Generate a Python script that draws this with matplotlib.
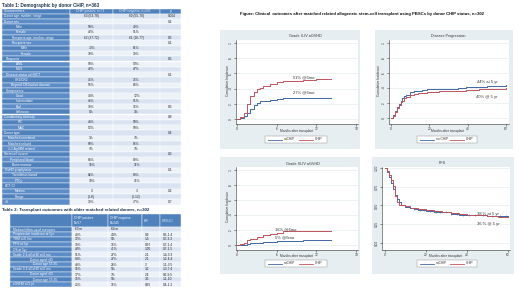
import numpy as np
import matplotlib
matplotlib.use('Agg')
import matplotlib.pyplot as plt
from matplotlib.patches import Rectangle

plt.rcParams['font.family'] = ['Liberation Sans', 'DejaVu Sans']

# ---------------- DATA ----------------
fig_title = ("Figure: Clinical  outcomes after matched related allogeneic stem-cell "
             "transplant using PBSCs by donor CHIP status, n=302")

t1_title = "Table 1: Demographic by donor CHIP, n=363"
t1_header = ["Characteristics", "CHIP positive, n=71", "CHIP negative, n=292", "p"]
t1_labels = ["Donor age, median, range", "Donor sex", "Male", "Female",
             "Recipient age, median, range", "Recipient sex", "Male", "Female",
             "Diagnosis", "AML", "MDS", "Disease status at HSCT", "CR1/CR2",
             "Beyond CR2/active disease", "Cytogenetics", "Good", "Intermediate",
             "Bad", "Unknown", "Conditioning intensity", "RIC", "MAC", "Donor type",
             "Matched unrelated", "Matched related", "1-1 Ag MM related",
             "Stem cell source", "Peripheral blood", "Bone marrow", "GvHD prophylaxis",
             "Tacrolimus based", "PTCy", "HCT-CI", "Median", "Range", ">3"]
t1_pos = ["63 (53-78)", "", "58%", "42%", "62 (37-72)", "", "70%", "30%", "", "58%",
          "42%", "", "45%", "55%", "", "14%", "46%", "39%", "0%", "", "48%", "52%", "",
          "3%", "90%", "7%", "", "84%", "16%", "", "82%", "18%", "", "3", "(0-8)", "39%"]
t1_neg = ["60 (55-70)", "", "49%", "51%", "61 (26-77)", "", "61%", "39%", "", "53%",
          "47%", "", "36%", "64%", "", "12%", "51%", "36%", "1%", "", "50%", "50%", "",
          "7%", "86%", "7%", "", "89%", "11%", "", "89%", "11%", "", "3", "(0-12)", "37%"]
t1_p = ["0.004", "0.2", "", "", "0.5", "0.1", "", "", "0.5", "", "", "0.1", "", "",
        "", "", "", "0.5", "", "0.8", "", "", "0.4", "", "", "", "0.3", "", "", "0.1",
        "", "", "", "0.2", "", "0.7"]

t2_title = "Table 2: Transplant outcomes with older matched related donors, n=302"
t2_header = ["", "CHIP positive\nN=57", "CHIP negative\nN=245", "HR", "95% CI"]
t2_labels = ["Median follow-up of survivors", "Progression incidence at 5yr",
             "TRM at 6 mo", "PFS at 5yr", "OS at 5yr", "Grade 2-4 aGvHD at 6 mo",
             "Donor aged <65", "Donor age 55-65", "Grade 3-4 aGvHD at 6 mo",
             "Donor aged <65", "Donor age 55-65", "cGVHD at 5 yr"]
t2_pos = ["63 m", "40%", "12%", "38%", "43%", "51%", "54%", "48%", "16%", "17%", "15%", "23%"]
t2_neg = ["64 m", "44%", "9%", "36%", "41%", "27%", "27%", "28%", "5%", "7%", "5%", "36%"]
t2_hr = ["", "0.9", "1.5", "0.97", "1.05", "2.1", "2.1", "2", "3.2", "2.4", "3.5", "0.65"]
t2_ci = ["", "0.5-1.4", "0.7-3.3", "0.7-1.4", "0.7-1.5", "1.4-3.3", "1.2-4.4",
         "1.1-3.5", "1.3-7.4", "0.6-9.5", "1.1-10", "0.4-1.2"]

series_names = ["noCHIP", "CHIP"]

# Grade II-IV aGVHD (months)
g24_t = [0, 0.5, 1, 1.5, 2, 2.5, 3, 3.5, 4, 5, 6, 7, 8, 10, 12, 14.2]
g24_nochip = [0, 0.01, 0.04, 0.08, 0.13, 0.18, 0.21, 0.23, 0.24, 0.25, 0.26, 0.27, 0.27, 0.27, 0.28, 0.28]
g24_chip = [0, 0.02, 0.08, 0.2, 0.3, 0.36, 0.39, 0.41, 0.43, 0.46, 0.49, 0.5, 0.5, 0.51, 0.52, 0.52]
g24_notes = ["27% @6mo", "51% @6mo"]

# Disease progression (months)
prog_t = [0, 1, 2, 3, 4, 5, 6, 7, 8, 10, 12, 14, 16, 19, 22, 25, 30, 35, 39, 42, 46, 50, 55, 60]
prog_nochip = [0, 0.04, 0.09, 0.15, 0.19, 0.23, 0.26, 0.29, 0.31, 0.34, 0.355, 0.365, 0.37,
               0.38, 0.385, 0.39, 0.39, 0.395, 0.41, 0.41, 0.415, 0.42, 0.43, 0.435]
prog_chip = [0, 0.03, 0.08, 0.13, 0.17, 0.21, 0.23, 0.26, 0.28, 0.30, 0.32, 0.33, 0.335,
             0.345, 0.35, 0.355, 0.36, 0.36, 0.37, 0.37, 0.38, 0.385, 0.39, 0.395]
prog_notes = ["44% at 5 yr", "40% @ 5 yr"]

# Grade III-IV aGVHD (months)
g34_t = [0, 0.5, 1, 1.5, 2, 3, 4, 5, 6, 7, 8, 10, 12, 14.2]
g34_nochip = [0, 0.0, 0.005, 0.01, 0.02, 0.03, 0.04, 0.045, 0.05, 0.055, 0.055, 0.06, 0.06, 0.06]
g34_chip = [0, 0.01, 0.03, 0.06, 0.08, 0.11, 0.13, 0.15, 0.16, 0.18, 0.18, 0.18, 0.18, 0.18]
g34_notes = ["5% @6mo", "16% @6mo"]

# PFS (months)
pfs_t = [0, 1, 2, 3, 4, 5, 6, 7, 8, 10, 12, 14, 16, 20, 24, 28, 32, 36, 40, 45, 50, 55, 60]
pfs_nochip = [1, 0.95, 0.88, 0.8, 0.72, 0.64, 0.58, 0.54, 0.51, 0.48, 0.46, 0.45, 0.44, 0.43,
              0.42, 0.41, 0.39, 0.38, 0.37, 0.37, 0.36, 0.355, 0.355]
pfs_chip = [1, 0.96, 0.9, 0.84, 0.76, 0.62, 0.55, 0.51, 0.5, 0.49, 0.47, 0.46, 0.45, 0.44,
            0.43, 0.42, 0.40, 0.39, 0.38, 0.37, 0.36, 0.35, 0.35]
pfs_cens = [14, 17, 19, 22, 25, 27, 30, 32, 35, 38, 41, 44, 48, 52, 56, 59]
pfs_notes = ["38 % at 5 yr", "36 % @ 5 yr"]

# ---------------- LAYOUT / STYLE ----------------
W, H = 520, 292
BLUE, RED = '#3f67a3', '#c0525a'
HDR, LAB, LAB2 = '#4f81bd', '#4f81bd', '#5d8dc8'
ROW_A, ROW_B = '#d9e3f1', '#edf2f9'
PANEL = '#e6eef2'
GRID = '#dde6ec'

fig = plt.figure(figsize=(5.2, 2.92), dpi=100)
fig.patch.set_facecolor('white')
bg = fig.add_axes([0, 0, 1, 1])
bg.set_xlim(0, W)
bg.set_ylim(H, 0)
bg.axis('off')


def cell(x0, y0, x1, y1, color):
    bg.add_patch(Rectangle((x0, y0), x1 - x0, y1 - y0, facecolor=color,
                           edgecolor='white', linewidth=0.3))


# ---- Table 1 ----
bg.text(2, 5, t1_title, fontsize=3.3, fontweight='bold', va='center', ha='left', color='#1f3550')
c1 = [2, 70, 113, 160, 181]
rh = 5.3
ty = 8.5
for j in range(4):
    cell(c1[j], ty, c1[j + 1], ty + rh, HDR)
bg.text(c1[0] + 2, ty + rh / 2, t1_header[0], fontsize=2.3, color='white', va='center')
for j in (1, 2):
    bg.text(c1[j] + 6, ty + rh / 2, t1_header[j], fontsize=2.3, color='#e8eef8', va='center')
bg.text(c1[3] + 10, ty + rh / 2, t1_header[3], fontsize=2.3, color='white', va='center')
t1_indent = [2, 2, 14, 14, 10, 10, 19, 19, 4, 14, 14, 4, 13, 9, 4, 14, 14, 14, 14, 2, 16,
             16, 2, 6, 6, 6, 2, 8, 10, 3, 10, 13, 3, 13, 13, 3]
for i, lab in enumerate(t1_labels):
    y0 = ty + rh * (i + 1)
    cell(c1[0], y0, c1[1], y0 + rh, LAB if i % 2 == 0 else LAB2)
    shade = ROW_A if i % 2 == 0 else ROW_B
    for j in (1, 2, 3):
        cell(c1[j], y0, c1[j + 1], y0 + rh, shade)
    yc = y0 + rh / 2
    bg.text(c1[0] + t1_indent[i], yc, lab, fontsize=2.3, color='white', va='center')
    bg.text((c1[1] + c1[2]) / 2, yc, t1_pos[i], fontsize=2.3, color='#222', va='center', ha='center')
    bg.text((c1[2] + c1[3]) / 2, yc, t1_neg[i], fontsize=2.3, color='#222', va='center', ha='center')
    bg.text(c1[3] + 8, yc, t1_p[i], fontsize=2.3, color='#222', va='center', ha='left')

# ---- Table 2 ----
bg.text(2, 210, t2_title, fontsize=3.2, fontweight='bold', va='center', ha='left', color='#1f3550')
c2 = [10, 72, 108, 142, 160, 181]
hy0, hy1 = 214, 227
for j in range(5):
    cell(c2[j], hy0, c2[j + 1], hy1, HDR)
for j in range(1, 5):
    bg.text(c2[j] + 2, (hy0 + hy1) / 2, t2_header[j], fontsize=2.3, color='white',
            va='center', ha='left', linespacing=1.3)
t2_indent = [3, 3, 3, 3, 3, 3, 20, 23, 3, 20, 23, 3]
rh2 = 5.0
for i, lab in enumerate(t2_labels):
    y0 = hy1 + rh2 * i
    cell(c2[0], y0, c2[1], y0 + rh2, LAB if i % 2 == 0 else LAB2)
    shade = ROW_A if i % 2 == 0 else ROW_B
    for j in range(1, 5):
        cell(c2[j], y0, c2[j + 1], y0 + rh2, shade)
    yc = y0 + rh2 / 2
    bg.text(c2[0] + t2_indent[i], yc, lab, fontsize=2.3, color='white', va='center')
    for j, col in zip(range(1, 5), (t2_pos, t2_neg, t2_hr, t2_ci)):
        bg.text(c2[j] + 3, yc, col[i], fontsize=2.3, color='#222', va='center', ha='left')

# ---- Figure title ----
bg.text(362, 14, fig_title, fontsize=3.1, fontweight='bold', ha='center', va='center', color='#111')


def px_axes(x0, y0, x1, y1):
    return fig.add_axes([x0 / W, 1 - y1 / H, (x1 - x0) / W, (y1 - y0) / H])


def step_value(ts, ys, x):
    k = np.searchsorted(ts, x, side='right') - 1
    return ys[k]


def panel(box, title, tpos, rect, xlim, ylim, xticks, yticks, ytl, ylab, ylab_x,
          xlab_pos, t, ys, notes, note_pos, leg, leg_labels):
    bx0, by0, bx1, by1 = box
    bg.add_patch(Rectangle((bx0, by0), bx1 - bx0, by1 - by0, facecolor=PANEL, edgecolor='none'))
    bg.text(tpos[0], tpos[1], title, fontsize=2.7, color='#333', ha='center', va='center')
    ax = px_axes(*rect)
    ax.set_facecolor('white')
    ax.set_xlim(*xlim)
    ax.set_ylim(*ylim)
    for s in ('top', 'right'):
        ax.spines[s].set_visible(False)
    for s in ('left', 'bottom'):
        ax.spines[s].set_linewidth(0.4)
        ax.spines[s].set_color('#333')
    ax.set_xticks(xticks)
    ax.set_yticks(yticks)
    ax.set_yticklabels(ytl, rotation=90, va='center')
    ax.tick_params(length=1.5, width=0.4, pad=1, labelsize=2.3, colors='#333')
    ax.yaxis.grid(True, color=GRID, linewidth=0.4)
    ax.set_axisbelow(True)
    for y, c in zip(ys, (BLUE, RED)):
        ax.plot(t, y, drawstyle='steps-post', color=c, linewidth=0.7)
    for txt, (nx, ny) in zip(notes, note_pos):
        ax.text(nx, ny, txt, fontsize=3.0, color='#333', ha='left', va='center')
    if ylab:
        bg.text(ylab_x, (rect[1] + rect[3]) / 2 - 2, ylab, fontsize=2.3, rotation=90,
                ha='center', va='center', color='#333')
    bg.text(xlab_pos[0], xlab_pos[1], "Months after transplant", fontsize=2.3,
            ha='center', va='center', color='#333')
    lx0, ly0, lx1, ly1 = leg
    bg.add_patch(Rectangle((lx0, ly0), lx1 - lx0, ly1 - ly0, facecolor='white',
                           edgecolor='#8a8a8a', linewidth=0.3))
    ym = (ly0 + ly1) / 2
    w = lx1 - lx0
    for k, (c, lab) in enumerate(zip((BLUE, RED), leg_labels)):
        sx = lx0 + 3 + k * w / 2
        bg.plot([sx, sx + 14], [ym, ym], color=c, linewidth=0.6)
        bg.text(sx + 16, ym, lab, fontsize=2.3, va='center', ha='left', color='#333')
    return ax


yt = [0, 0.2, 0.4, 0.6, 0.8, 1]
ytl = ["0", ".2", ".4", ".6", ".8", "1"]

panel((220, 30, 360, 149), "Grade II-IV aGVHD", (305, 36), (236, 40, 358, 124),
      (-0.15, 18.3), (-0.066, 1.039), [0, 6, 12, 18], yt, ytl, "Cumulative Incidence", 228,
      (297, 131), g24_t, (g24_nochip, g24_chip), g24_notes, [(8.5, 0.355), (8.5, 0.55)],
      (265, 136, 327, 143), series_names)

panel((375, 30, 513, 149), "Disease Progression", (448, 36), (389, 40, 509, 124),
      (-1.04, 61.6), (-0.08, 1.04), [0, 20, 40, 60], yt, ytl, "Cumulative Incidence", 379,
      (448, 131), prog_t, (prog_nochip, prog_chip), prog_notes, [(45, 0.48), (44.5, 0.28)],
      (417, 136, 477, 143), ["no CHIP", "CHIP"])

panel((220, 157, 360, 274), "Grade III-IV aGVHD", (303, 164), (236, 167, 358, 250),
      (-0.15, 18.3), (-0.067, 1.04), [0, 6, 12, 18], yt, ytl, "Cumulative Incidence", 228,
      (297, 256), g34_t, (g34_nochip, g34_chip), g34_notes, [(5.8, 0.1), (5.8, 0.21)],
      (265, 260, 327, 267), series_names)

ax4 = panel((372, 157, 514, 274), "PFS", (442, 163), (382, 167, 510, 250),
            (-1.46, 61.0), (-0.093, 1.013), [0, 20, 40, 60], [0, 0.25, 0.5, 0.75, 1],
            ["0.00", "0.25", "0.50", "0.75", "1.00"], None, 0,
            (446, 256), pfs_t, (pfs_nochip, pfs_chip), pfs_notes, [(45, 0.39), (45, 0.25)],
            (417, 260, 477, 267), series_names)
cy = [step_value(pfs_t, pfs_nochip, c) for c in pfs_cens]
ax4.plot(pfs_cens, cy, linestyle='none', marker='|', markersize=1.6, markeredgewidth=0.4, color=BLUE)

fig.savefig('out.png', dpi=100, facecolor='white')
